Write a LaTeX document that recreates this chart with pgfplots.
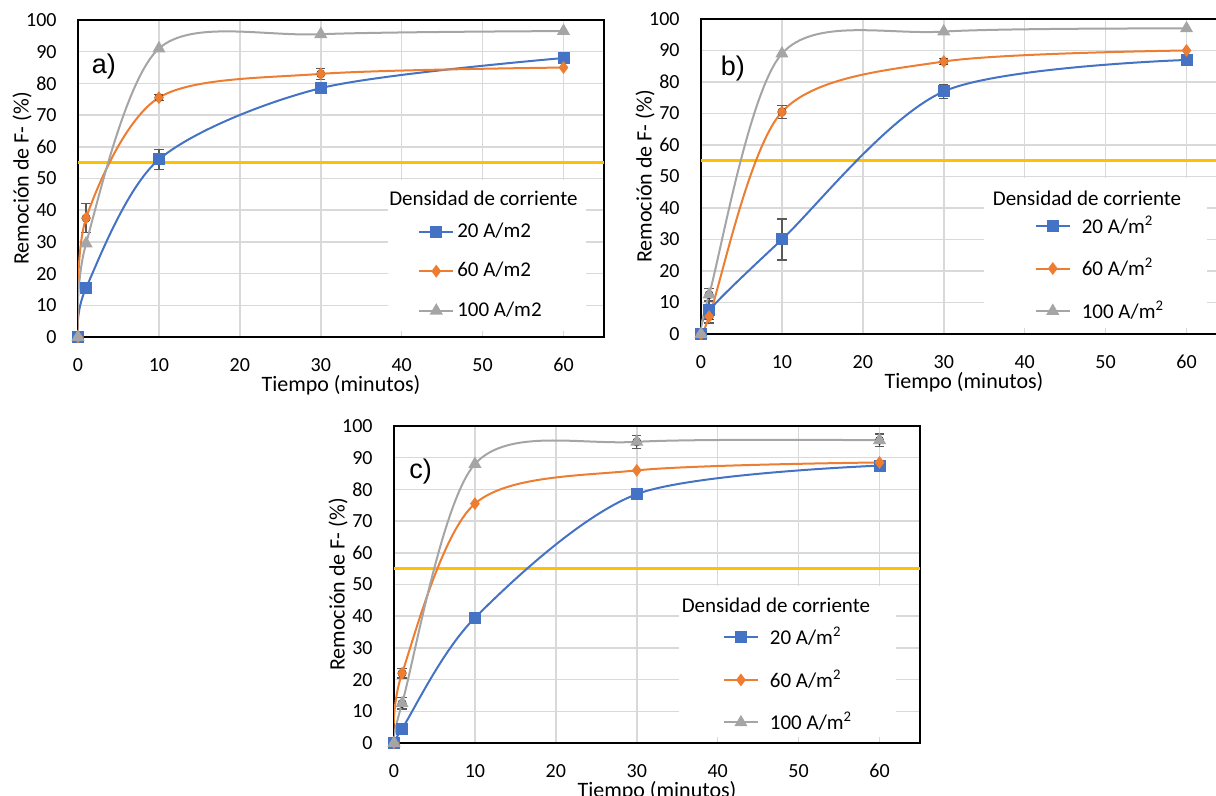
\documentclass[border=0pt]{standalone}
\usepackage{fontspec}
\setmainfont{Carlito}
\newfontfamily\arialfont{Liberation Sans}
\usepackage{pgfplots}
\pgfplotsset{compat=1.18}
\definecolor{cblue}{HTML}{4472C4}
\definecolor{corange}{HTML}{ED7D31}
\definecolor{cgray}{HTML}{A5A5A5}
\definecolor{cgold}{HTML}{FFC000}
\definecolor{cgrid}{HTML}{D9D9D9}
\definecolor{cerr}{HTML}{595959}
\pgfplotsset{
  panel/.style={
    scale only axis, width=263pt, height=158.5pt,
    xmin=0, xmax=65, ymin=0, ymax=100,
    xtick={0,10,...,60}, ytick={0,10,...,100},
    grid=major, grid style={draw=cgrid, line width=0.75pt},
    axis line style={line width=1.2pt, black},
    major tick length=0pt, tick style={draw=none},
    tick label style={font=\fontsize{10}{12}\selectfont},
    /pgf/number format/assume math mode=true,
    xticklabel style={anchor=center, yshift=-14pt},
    yticklabel style={anchor=east, inner sep=0pt, xshift=-10.5pt},
    xlabel={Tiempo (minutos)}, ylabel={Remoción de F- (\%)},
    every axis x label/.style={at={([yshift=-24pt]axis description cs:0.5,0)}, anchor=center, font=\fontsize{11}{13}\selectfont},
    every axis y label/.style={at={([xshift=-28pt]axis description cs:0,0.5)}, anchor=center, rotate=90, font=\fontsize{11}{13}\selectfont},
    legend cell align=left,
    legend style={draw=none, fill=none, font=\fontsize{10.5}{12}\selectfont, row sep=8pt, inner sep=0pt, anchor=north west, nodes={inner sep=1.5pt}},
    legend image code/.code={\draw[mark repeat=2,mark phase=2] plot coordinates {(0pt,0pt)(8.5pt,0pt)(17pt,0pt)};},
  },
  sb/.style={cblue, line width=1pt, smooth, mark=square*, mark size=2.5pt, mark options={solid, fill=cblue}},
  so/.style={corange, line width=1pt, smooth, mark=diamond*, mark size=2.4pt, mark options={solid, fill=corange}},
  sg/.style={cgray, line width=1pt, smooth, mark=triangle*, mark size=2.8pt, mark options={solid, fill=cgray}},
  eb/.style={only marks, mark=none, forget plot, error bars/.cd, y dir=both, y explicit,
    error bar style={line width=0.6pt, cerr},
    error mark options={rotate=90, mark size=2.3pt, line width=0.6pt, cerr}},
  thr/.style={cgold, line width=1.5pt, forget plot},
}
\begin{document}
\begin{tikzpicture}
\useasboundingbox (0,0) rectangle (608pt,398pt);
% ---------------- panel a
\begin{axis}[panel, at={(39pt,229.5pt)}, anchor=south west,
  legend style={at={(axis cs:42,37.1)}}]
\addplot[thr] coordinates {(0,55) (65,55)};
\fill[white] (axis cs:38.3,2) rectangle (axis cs:62.8,49.5);
\node[font=\fontsize{10.5}{12}\selectfont] at (axis cs:50.1,43.8) {Densidad de corriente};
\node[font=\arialfont\fontsize{13.5}{15}\selectfont] at (axis cs:3.2,85.2) {a)};
\addplot[eb] coordinates {(10,56) +- (0,3.2) (30,78.5) +- (0,1.6)};
\addplot[eb] coordinates {(1,37.5) +- (0,4.5) (10,75.5) +- (0,1) (30,83) +- (0,1.8)};
\addplot[sb] coordinates {(0,0) (1,15.5) (10,56) (30,78.5) (60,88)};
\addlegendentry{20 A/m2}
\addplot[so] coordinates {(0,0) (1,37.5) (10,75.5) (30,83) (60,85)};
\addlegendentry{60 A/m2}
\addplot[sg] coordinates {(0,0) (1,29.5) (10,91) (30,95.5) (60,96.5)};
\addlegendentry{100 A/m2}
\end{axis}
% ---------------- panel b
\begin{axis}[panel, height=157.5pt, at={(350.5pt,231pt)}, anchor=south west,
  legend style={at={(axis cs:41.2,38.6)}}]
\addplot[thr] coordinates {(0,55) (65,55)};
\fill[white] (axis cs:35,2) rectangle (axis cs:62.5,49.5);
\node[font=\fontsize{10.5}{12}\selectfont] at (axis cs:47.7,43.2) {Densidad de corriente};
\node[font=\arialfont\fontsize{13.5}{15}\selectfont] at (axis cs:3.95,84.4) {b)};
\addplot[eb] coordinates {(1,7.5) +- (0,3) (10,30) +- (0,6.5) (30,77) +- (0,2.2)};
\addplot[eb] coordinates {(1,5.5) +- (0,2) (10,70.5) +- (0,2) (30,86.5) +- (0,1)};
\addplot[eb] coordinates {(1,12.5) +- (0,2)};
\addplot[sb] coordinates {(0,0) (1,7.5) (10,30) (30,77) (60,87)};
\addlegendentry{\hspace{4pt}20 A/m\textsuperscript{2}}
\addplot[so] coordinates {(0,0) (1,5.5) (10,70.5) (30,86.5) (60,90)};
\addlegendentry{\hspace{4pt}60 A/m\textsuperscript{2}}
\addplot[sg] coordinates {(0,0) (1,12.5) (10,89) (30,96) (60,97)};
\addlegendentry{\hspace{4pt}100 A/m\textsuperscript{2}}
\end{axis}
% ---------------- panel c
\begin{axis}[panel, at={(197pt,26.5pt)}, anchor=south west,
  legend style={at={(axis cs:40.6,37.6)}}]
\addplot[thr] coordinates {(0,55) (65,55)};
\fill[white] (axis cs:35.2,2) rectangle (axis cs:62,49.5);
\node[font=\fontsize{10.5}{12}\selectfont] at (axis cs:47.2,43.5) {Densidad de corriente};
\node[font=\arialfont\fontsize{13.5}{15}\selectfont] at (axis cs:3.3,85.5) {c)};
\addplot[eb] coordinates {(1,4.5) +- (0,1)};
\addplot[eb] coordinates {(1,22) +- (0,1.5)};
\addplot[eb] coordinates {(1,12.5) +- (0,1.8) (30,95) +- (0,2) (60,95.5) +- (0,2)};
\addplot[sb] coordinates {(0,0) (1,4.5) (10,39.5) (30,78.5) (60,87.5)};
\addlegendentry{\hspace{4pt}20 A/m\textsuperscript{2}}
\addplot[so] coordinates {(0,0) (1,22) (10,75.5) (30,86) (60,88.5)};
\addlegendentry{\hspace{4pt}60 A/m\textsuperscript{2}}
\addplot[sg] coordinates {(0,0) (1,12.5) (10,88) (30,95) (60,95.5)};
\addlegendentry{\hspace{4pt}100 A/m\textsuperscript{2}}
\end{axis}
\end{tikzpicture}
\end{document}
